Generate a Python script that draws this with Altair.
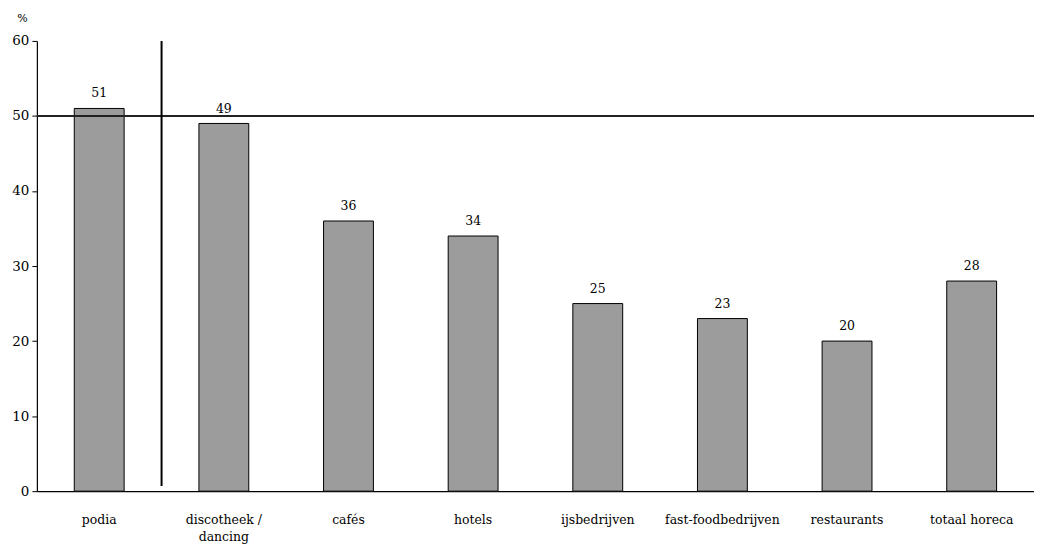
import altair as alt
import pandas as pd

categories = ["podia", "discotheek / dancing", "cafés", "hotels", "ijsbedrijven",
              "fast-foodbedrijven", "restaurants", "totaal horeca"]
values = [51, 49, 36, 34, 25, 23, 20, 28]
y_ticks = [0, 10, 20, 30, 40, 50, 60]
reference_level = [50]
divider_category = ["discotheek / dancing"]
divider_span = [60, 0.7]

df = pd.DataFrame({"cat": categories, "val": values})
FONT = "DejaVu Serif"

xscale = alt.Scale(domain=categories, paddingInner=0.6, paddingOuter=0.3)
x = alt.X("cat:N", scale=xscale, sort=categories,
          axis=alt.Axis(title=None, labelAngle=0, ticks=False, labelPadding=22,
                        labelFont=FONT, labelFontSize=12.5, labelColor="black",
                        labelLineHeight=18,
                        domainColor="black", domainWidth=1.2,
                        labelExpr="datum.label == 'discotheek / dancing' ? ['discotheek /', 'dancing'] : datum.label"))
y = alt.Y("val:Q", scale=alt.Scale(domain=[0, 60], nice=False),
          axis=alt.Axis(values=y_ticks, grid=False, title="%", titleAngle=0,
                        titleX=-15, titleY=-17, titleAlign="center",
                        titleFont=FONT, titleFontSize=11, titleFontWeight="normal",
                        labelFont=FONT, labelFontSize=13.5, labelColor="black", labelPadding=3,
                        tickColor="black", tickSize=5, domainColor="black", domainWidth=1.2))

bars = alt.Chart(df).mark_bar(fill="#9c9c9c", stroke="black", strokeWidth=1).encode(x=x, y=y)
labels = alt.Chart(df).mark_text(dy=-8, font=FONT, fontSize=12.5, color="black", baseline="bottom").encode(
    x=x, y="val:Q", text="val:Q")

ref = alt.Chart(pd.DataFrame({"v": reference_level})).mark_rule(color="#222", strokeWidth=2).encode(
    y=alt.Y("v:Q"))

div_df = pd.DataFrame({"cat": divider_category, "top": [divider_span[0]], "bot": [divider_span[1]]})
divider = alt.Chart(div_df).mark_rule(color="black", strokeWidth=2, xOffset=-37.5).encode(
    x=alt.X("cat:N", scale=xscale, sort=categories, bandPosition=0),
    y=alt.Y("top:Q"), y2="bot:Q")

chart = alt.layer(bars, labels, ref, divider).properties(
    width=1001, height=452,
    autosize=alt.AutoSizeParams(type="none"),
    padding={"left": 29, "top": 32, "right": 0, "bottom": 52},
).configure_view(stroke=None)

chart.save("out.html", embed_options={"renderer": "svg", "actions": False})
